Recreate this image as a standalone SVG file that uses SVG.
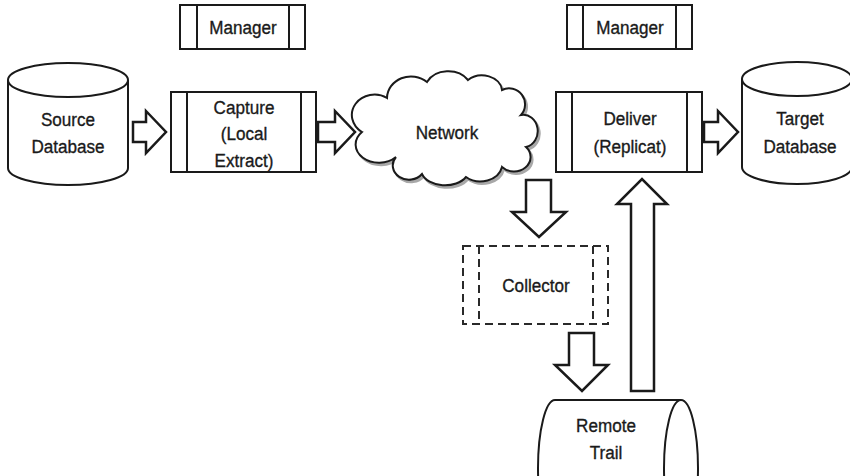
<svg xmlns="http://www.w3.org/2000/svg" width="850" height="476" viewBox="0 0 850 476">
  <style>
    .shape { fill: #fff; stroke: #1a1a1a; stroke-width: 2; }
    .line { fill: none; stroke: #1a1a1a; stroke-width: 2; }
    .dash { fill: none; stroke: #2a2a2a; stroke-width: 2; stroke-dasharray: 8 5; }
    .arrow { fill: #fff; stroke: #1a1a1a; stroke-width: 2.5; stroke-linejoin: miter; }
    .label { font-family: "Liberation Sans", Arial, Helvetica, sans-serif; font-size: 19px; fill: #1a1a1a; stroke: #1a1a1a; stroke-width: 0.35; text-anchor: middle; }
  </style>

  <!-- Manager processes -->
  <g id="manager-left">
    <rect class="shape" x="180" y="5" width="125" height="44"/>
    <line class="line" x1="197" y1="5" x2="197" y2="49"/>
    <line class="line" x1="289" y1="5" x2="289" y2="49"/>
    <text class="label" transform="translate(243,34) scale(0.9,1)">Manager</text>
  </g>
  <g id="manager-right">
    <rect class="shape" x="567" y="5" width="125" height="44"/>
    <line class="line" x1="583" y1="5" x2="583" y2="49"/>
    <line class="line" x1="676" y1="5" x2="676" y2="49"/>
    <text class="label" transform="translate(630,34) scale(0.9,1)">Manager</text>
  </g>

  <!-- Source database -->
  <g id="source-db">
    <path class="shape" d="M8,80 L8,168 A60,17 0 0 0 128,168 L128,80"/>
    <ellipse class="shape" cx="68" cy="80" rx="60" ry="17"/>
    <text class="label" transform="translate(68,126) scale(0.9,1)">Source</text>
    <text class="label" transform="translate(68,153) scale(0.9,1)">Database</text>
  </g>

  <!-- Capture process -->
  <g id="capture">
    <rect class="shape" x="171" y="92" width="145" height="80"/>
    <line class="line" x1="187" y1="92" x2="187" y2="172"/>
    <line class="line" x1="301" y1="92" x2="301" y2="172"/>
    <text class="label" transform="translate(244,114) scale(0.9,1)">Capture</text>
    <text class="label" transform="translate(244,140) scale(0.9,1)">(Local</text>
    <text class="label" transform="translate(244,167) scale(0.9,1)">Extract)</text>
  </g>

  <!-- Network cloud with a soft drop shadow -->
  <g id="network">
    <path transform="translate(2,2.5)" fill="#a8a8a8" stroke="#a8a8a8" stroke-width="2"
          d="M362,132 A20,18 0 0 1 387,98 A24,22 0 0 1 427,82 A24,20 0 0 1 468,80 A20,16 0 0 1 502,90 A16,16 0 0 1 521,115 A14,16 0 0 1 526,147 A16,14 0 0 1 502,167 A22,18 0 0 1 466,177 A24,16 0 0 1 422,174 A16,14 0 0 1 396,157 A18,14 0 0 1 362,132 Z"/>
    <path class="shape"
          d="M362,132 A20,18 0 0 1 387,98 A24,22 0 0 1 427,82 A24,20 0 0 1 468,80 A20,16 0 0 1 502,90 A16,16 0 0 1 521,115 A14,16 0 0 1 526,147 A16,14 0 0 1 502,167 A22,18 0 0 1 466,177 A24,16 0 0 1 422,174 A16,14 0 0 1 396,157 A18,14 0 0 1 362,132 Z"/>
    <text class="label" transform="translate(447,139) scale(0.9,1)">Network</text>
  </g>

  <!-- Deliver process -->
  <g id="deliver">
    <rect class="shape" x="556" y="92" width="146" height="80"/>
    <line class="line" x1="572" y1="92" x2="572" y2="172"/>
    <line class="line" x1="687" y1="92" x2="687" y2="172"/>
    <text class="label" transform="translate(630,125) scale(0.9,1)">Deliver</text>
    <text class="label" transform="translate(630,153) scale(0.9,1)">(Replicat)</text>
  </g>

  <!-- Target database -->
  <g id="target-db">
    <path class="shape" d="M742,79 L742,167 A55,17 0 0 0 852,167 L852,79"/>
    <ellipse class="shape" cx="797" cy="79" rx="55" ry="17"/>
    <text class="label" transform="translate(800,125) scale(0.9,1)">Target</text>
    <text class="label" transform="translate(800,153) scale(0.9,1)">Database</text>
  </g>

  <!-- Collector (dashed, optional) -->
  <g id="collector">
    <rect class="dash" x="463" y="246" width="145" height="78"/>
    <line class="dash" x1="479" y1="246" x2="479" y2="324"/>
    <line class="dash" x1="593" y1="246" x2="593" y2="324"/>
    <text class="label" transform="translate(536,292) scale(0.9,1)">Collector</text>
  </g>

  <!-- Remote trail (horizontal cylinder) -->
  <g id="remote-trail">
    <path class="shape" d="M681,400 L555,400 A17,68 0 0 0 555,536 L681,536"/>
    <ellipse class="shape" cx="681" cy="468" rx="17" ry="68"/>
    <text class="label" transform="translate(606,432) scale(0.9,1)">Remote</text>
    <text class="label" transform="translate(606,459) scale(0.9,1)">Trail</text>
  </g>

  <!-- Block arrows -->
  <g id="connectors">
    <polygon class="arrow" points="133,122 146,122 146,111 166,132 146,153 146,142 133,142"/>
    <polygon class="arrow" points="318,122 335,122 335,111 355,132 335,153 335,142 318,142"/>
    <polygon class="arrow" points="704,122 718,122 718,111 738,132 718,153 718,142 704,142"/>
    <polygon class="arrow" points="526,180 551,180 551,212 566,212 539,237 512,212 526,212"/>
    <polygon class="arrow" points="569,333 594,333 594,365 608,365 582,391 555,365 569,365"/>
    <polygon class="arrow" points="631,391 654,391 654,204 667,204 642,179 617,204 631,204"/>
  </g>
</svg>
